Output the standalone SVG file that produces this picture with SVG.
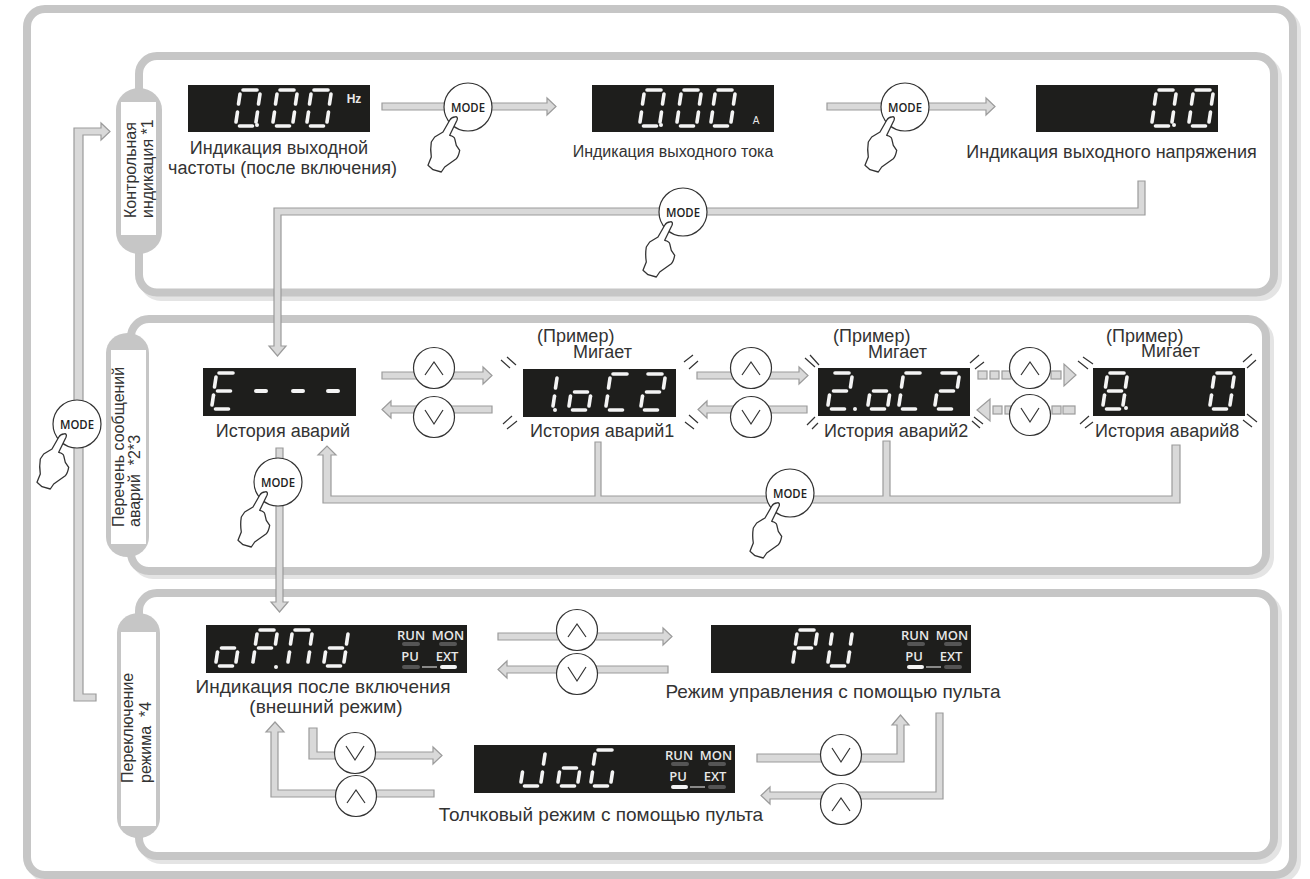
<svg xmlns="http://www.w3.org/2000/svg" width="1310" height="879" viewBox="0 0 1310 879">
<style>
text{font-family:"Liberation Sans",Arial,sans-serif;fill:#333;font-size:18px}
.m{text-anchor:middle}
.r3{font-size:19px}
.pt{font-size:16px}
.sh{fill:none;stroke:#e4e4e4;stroke-width:8}
.pn{fill:#fff;stroke:#c6c6c6;stroke-width:8}
.pill{fill:#c6c6c6}
.pw{fill:#fff}
.c{fill:#d9d9d9;stroke:#9b9b9b;stroke-width:1.2}
.btn{fill:#fff;stroke:#333;stroke-width:1.2}
.chev{fill:none;stroke:#333;stroke-width:1.2}
.hand{fill:#fff;stroke:#333;stroke-width:1.3;stroke-linejoin:round}
.md{font-family:"Open Sans","Noto Sans",sans-serif;font-size:13px;font-weight:600;text-anchor:middle;fill:#222}
.d{fill:#1e1e1c}
.s{fill:none;stroke:#f4f4f4;stroke-width:3.6;stroke-linecap:round}
.dot{fill:#f4f4f4}
.ind{font-family:"Open Sans","Noto Sans",sans-serif;font-size:13px;font-weight:600;text-anchor:middle;fill:#e8e8e8}
.on{fill:#f4f4f4}
.off{fill:#555}
.tk{stroke:#333;stroke-width:1.2;fill:none}
</style>
<defs>
<path id="a" class="s" d="M9 2H23"/>
<path id="b" class="s" d="M26 6L24.500 16"/>
<path id="c" class="s" d="M23.500 24L22 34"/>
<path id="e" class="s" d="M3.500 24L2 34"/>
<path id="f" class="s" d="M6 6L4.500 16"/>
<path id="g" class="s" d="M7.500 20H20.500"/>
<path id="dd" class="s" d="M5.500 38H18.500"/>
<g id="g0"><use href="#a"/><use href="#b"/><use href="#c"/><use href="#dd"/><use href="#e"/><use href="#f"/></g>
<g id="g1"><use href="#b"/><use href="#c"/></g>
<g id="g2"><use href="#a"/><use href="#b"/><use href="#g"/><use href="#e"/><use href="#dd"/></g>
<g id="g8"><use href="#g0"/><use href="#g"/></g>
<g id="go"><use href="#g"/><use href="#c"/><use href="#dd"/><use href="#e"/></g>
<g id="gC"><use href="#a"/><use href="#f"/><use href="#e"/><use href="#dd"/></g>
<g id="gP"><use href="#a"/><use href="#b"/><use href="#g"/><use href="#f"/><use href="#e"/></g>
<g id="gU"><use href="#b"/><use href="#c"/><use href="#dd"/><use href="#e"/><use href="#f"/></g>
<g id="gE"><use href="#a"/><use href="#f"/><use href="#g"/><use href="#e"/><use href="#dd"/></g>
<g id="gN"><use href="#a"/><use href="#b"/><use href="#c"/><use href="#e"/><use href="#f"/></g>
<g id="gd"><use href="#b"/><use href="#c"/><use href="#dd"/><use href="#e"/><use href="#g"/></g>
<g id="gJ"><use href="#b"/><use href="#c"/><use href="#dd"/><use href="#e"/></g>
<g id="gG"><use href="#a"/><use href="#f"/><use href="#e"/><use href="#dd"/><use href="#c"/></g>
<path id="hand" class="hand" d="M-13.300 10C-11 9-10 11-11 13.300L-18.300 28.300C-15.500 29-13.500 30-13.300 31.700L-11.700 38.300L-8.300 43.300C-9 47-10 50-11.700 51.700L-23.300 60L-26.700 65L-35 62.700L-40 58.300L-36.700 50C-37.500 45-37.500 40-36.700 35L-33.300 30L-25 25L-18.300 13.300C-17 11-15 10-13.300 10Z"/>
<path id="up" class="chev" d="M-9 7L0-6L9 7"/>
<path id="dn" class="chev" d="M-9-7L0 7L9-7"/>
</defs>

<g id="panels">
<rect class="sh" x="31" y="13" width="1266" height="866" rx="18"/>
<rect class="pn" x="27" y="9" width="1266" height="866" rx="18"/>
<rect class="sh" x="143" y="60" width="1135" height="237" rx="18"/>
<rect class="pn" x="139" y="56" width="1135" height="236.500" rx="18"/>
<rect class="sh" x="135" y="323" width="1135" height="252" rx="18"/>
<rect class="pn" x="131" y="319" width="1135" height="252" rx="18"/>
<rect class="sh" x="143" y="597" width="1135" height="263" rx="18"/>
<rect class="pn" x="139" y="593" width="1135" height="263" rx="18"/>
</g>

<g id="pill-monitor">
<rect class="pill" x="116" y="88" width="46" height="166" rx="23" ry="22"/>
<rect class="pw" x="121" y="102" width="35" height="133"/>
<text class="pt" transform="translate(136 218) rotate(-90)">Контрольная</text>
<text class="pt" transform="translate(153 218) rotate(-90)">индикация *1</text>
</g>
<g id="pill-alarm">
<rect class="pill" x="106" y="333" width="43" height="224" rx="21.500" ry="20"/>
<rect class="pw" x="111" y="350" width="35" height="194"/>
<text class="pt" transform="translate(124 527) rotate(-90)">Перечень сообщений</text>
<text class="pt" xml:space="preserve" transform="translate(140 527) rotate(-90)">аварий  *2*3</text>
</g>
<g id="pill-mode">
<rect class="pill" x="117" y="613" width="43" height="225" rx="21.500" ry="20"/>
<rect class="pw" x="121" y="632" width="35" height="194"/>
<text class="pt" transform="translate(133 783) rotate(-90)">Переключение</text>
<text class="pt" xml:space="preserve" transform="translate(151 783) rotate(-90)">режима  *4</text>
</g>

<g id="connectors">
<polygon class="c" points="96,694 96,701 74,701 74,128 101,128 101,123 110,131.500 101,140 101,135 83,135 83,694"/>
<polygon class="c" points="382,103 547,103 547,98 556,106.500 547,115 547,110 382,110"/>
<polygon class="c" points="827,103 986,103 986,98 995,106.500 986,115 986,110 827,110"/>
<polygon class="c" points="1138,181 1145,181 1145,215 281,215 281,346 286,346 277.500,356 269,346 274,346 274,208 1138,208"/>
<polygon class="c" points="382,372 483,372 483,367 492,375.500 483,384 483,379 382,379"/>
<polygon class="c" points="492,406 391,406 391,401 382,409.500 391,418 391,413 492,413"/>
<polygon class="c" points="697,372 799,372 799,367 808,375.500 799,384 799,379 697,379"/>
<polygon class="c" points="807,406 707,406 707,401 698,409.500 707,418 707,413 807,413"/>
<rect class="c" x="978" y="371" width="9" height="8"/><rect class="c" x="990" y="371" width="9" height="8"/><rect class="c" x="1002" y="371" width="9" height="8"/><rect class="c" x="1051" y="371" width="10" height="8"/>
<polygon class="c" points="1064,371 1064,364 1076,375 1064,386 1064,379"/>
<polygon class="c" points="990,406 990,399 977,410 990,421 990,414"/>
<rect class="c" x="993" y="406" width="9" height="8"/><rect class="c" x="1005" y="406" width="9" height="8"/><rect class="c" x="1052" y="406" width="9" height="8"/><rect class="c" x="1063" y="406" width="12" height="8"/>
<polygon class="c" points="1180,445 1180,503 331,503 323,503 323,455 318,455 327,446 336,455 331,455 331,496 595,496 595,442 601,442 601,496 883,496 883,441 890,441 890,496 1172,496 1172,445"/>
<polygon class="c" points="276,448 283,448 283,602 288,602 279.500,612 271,602 276,602"/>
<polygon class="c" points="498,633 663,633 663,628 672,636.500 663,645 663,640 498,640"/>
<polygon class="c" points="668,666 507,666 507,661 498,669.500 507,678 507,673 668,673"/>
<polygon class="c" points="309,728 317,728 317,752 433,752 433,747 442,755.500 433,764 433,759 309,759"/>
<polygon class="c" points="434,790 434,797 271,797 271,732 266,732 275,722 284,732 278,732 278,790"/>
<polygon class="c" points="757,754 897,754 897,725 892,725 900.500,715 909,725 904,725 904,762 757,762"/>
<polygon class="c" points="943,713 943,799 770,799 770,804 761,795.500 770,787 770,792 936,792 936,713"/>
</g>

<g id="btn-mode-left"><circle class="btn" cx="77" cy="424" r="24"/><text class="md" x="77" y="428.500" textLength="34" lengthAdjust="spacingAndGlyphs">MODE</text><use href="#hand" x="77" y="424"/></g>
<g id="btn-mode-1"><circle class="btn" cx="468" cy="107" r="24"/><text class="md" x="468" y="111.500" textLength="34" lengthAdjust="spacingAndGlyphs">MODE</text><use href="#hand" x="468" y="107"/></g>
<g id="btn-mode-2"><circle class="btn" cx="905" cy="107" r="24"/><text class="md" x="905" y="111.500" textLength="34" lengthAdjust="spacingAndGlyphs">MODE</text><use href="#hand" x="905" y="107"/></g>
<g id="btn-mode-3"><circle class="btn" cx="683" cy="212" r="24"/><text class="md" x="683" y="216.500" textLength="34" lengthAdjust="spacingAndGlyphs">MODE</text><use href="#hand" x="683" y="212"/></g>
<g id="btn-mode-4"><circle class="btn" cx="278" cy="482" r="24"/><text class="md" x="278" y="486.500" textLength="34" lengthAdjust="spacingAndGlyphs">MODE</text><use href="#hand" x="278" y="482"/></g>
<g id="btn-mode-5"><circle class="btn" cx="790" cy="493" r="24"/><text class="md" x="790" y="497.500" textLength="34" lengthAdjust="spacingAndGlyphs">MODE</text><use href="#hand" x="790" y="493"/></g>

<g id="btns-arrows">
<circle class="btn" cx="434" cy="368" r="20.500"/><use href="#up" x="434" y="368"/>
<circle class="btn" cx="434" cy="417" r="20.500"/><use href="#dn" x="434" y="417"/>
<circle class="btn" cx="751" cy="368" r="20.500"/><use href="#up" x="751" y="368"/>
<circle class="btn" cx="751" cy="417" r="20.500"/><use href="#dn" x="751" y="417"/>
<circle class="btn" cx="1030" cy="368" r="20.500"/><use href="#up" x="1030" y="368"/>
<circle class="btn" cx="1030" cy="415" r="20.500"/><use href="#dn" x="1030" y="415"/>
<circle class="btn" cx="577" cy="630" r="20.500"/><use href="#up" x="577" y="630"/>
<circle class="btn" cx="577" cy="674" r="20.500"/><use href="#dn" x="577" y="674"/>
<circle class="btn" cx="355" cy="753" r="20.500"/><use href="#dn" x="355" y="753"/>
<circle class="btn" cx="356" cy="796" r="20.500"/><use href="#up" x="356" y="796"/>
<circle class="btn" cx="841" cy="755" r="20.500"/><use href="#dn" x="841" y="755"/>
<circle class="btn" cx="841" cy="804" r="20.500"/><use href="#up" x="841" y="804"/>
</g>

<g id="disp-freq">
<rect class="d" x="188" y="85" width="182" height="47"/>
<use href="#g0" x="234" y="88"/><circle class="dot" cx="257" cy="125" r="2"/><use href="#g0" x="271" y="88"/><use href="#g0" x="305" y="88"/>
<text x="354" y="103" class="m" style="font-size:12px;font-weight:bold;fill:#e8e8e8">Hz</text>
<text class="m" x="279" y="154">Индикация выходной</text>
<text class="m" x="282.500" y="174">частоты (после включения)</text>
</g>
<g id="disp-current">
<rect class="d" x="592" y="85" width="182" height="47"/>
<use href="#g0" x="638" y="88"/><circle class="dot" cx="661" cy="125" r="2"/><use href="#g0" x="675" y="88"/><use href="#g0" x="709" y="88"/>
<text x="756" y="124" class="m" style="font-size:10px;fill:#e8e8e8">A</text>
<text class="m" x="673" y="157" style="font-size:16px">Индикация выходного тока</text>
</g>
<g id="disp-voltage">
<rect class="d" x="1036" y="85" width="182" height="47"/>
<use href="#g0" x="1150" y="88"/><circle class="dot" cx="1174" cy="125" r="2"/><use href="#g0" x="1187" y="88"/>
<text class="m" x="1111.500" y="158">Индикация выходного напряжения</text>
</g>

<g id="disp-hist0">
<rect class="d" x="203" y="368" width="153" height="48"/>
<use href="#gE" x="210" y="371"/>
<path class="s" style="stroke-width:4" d="M256 391H266M293 391H303M328 391H338"/>
<text class="m" x="283" y="437">История аварий</text>
</g>
<g id="disp-hist1">
<rect class="d" x="523" y="369" width="153" height="48"/>
<use href="#g1" x="531" y="372"/><circle class="dot" cx="555" cy="410" r="2"/><use href="#go" x="567" y="372"/><use href="#gC" x="604" y="372"/><use href="#g2" x="639" y="372"/>
<path class="tk" d="M501 360L510 368M507 357L516 365M503 424L512 416M507 429L517 421M684 362L693 355M689 369L698 361M685 422L694 429M689 415L698 423"/>
<text x="537" y="342">(Пример)</text><text x="573" y="358">Мигает</text>
<text x="530" y="437">История аварий1</text>
</g>
<g id="disp-hist2">
<rect class="d" x="818" y="368" width="152" height="48"/>
<use href="#g2" x="826" y="371"/><circle class="dot" cx="855" cy="409" r="2"/><use href="#go" x="866" y="371"/><use href="#gC" x="897" y="371"/><use href="#g2" x="933" y="371"/>
<path class="tk" d="M805 358L815 367M810 355L819 365M807 425L815 417M812 429L818 423M970 363L979 355M975 369L984 362M974 417L983 424M972 421L980 428"/>
<text x="833" y="342">(Пример)</text><text x="868" y="358">Мигает</text>
<text x="824" y="437">История аварий2</text>
</g>
<g id="disp-hist8">
<rect class="d" x="1093" y="368" width="152" height="48"/>
<use href="#g8" x="1101" y="371"/><circle class="dot" cx="1126" cy="408" r="2"/><use href="#g0" x="1208" y="371"/>
<path class="tk" d="M1078 361L1088 369M1083 357L1093 364M1080 424L1089 416M1085 428L1093 422M1243 362L1252 354M1247 368L1256 360M1243 420L1252 427M1247 414L1257 422"/>
<text x="1106" y="342">(Пример)</text><text x="1141" y="357">Мигает</text>
<text x="1095" y="437">История аварий8</text>
</g>

<g id="disp-opnd">
<rect class="d" x="206" y="625" width="261" height="48"/>
<use href="#go" x="214" y="628"/><use href="#gP" x="251" y="628"/><circle class="dot" cx="276" cy="667" r="2"/><use href="#gN" x="286" y="628"/><use href="#gd" x="322" y="628"/>
<text class="ind" x="411" y="640">RUN</text><text class="ind" x="448" y="640">MON</text><text class="ind" x="410" y="661">PU</text><text class="ind" x="447" y="661">EXT</text>
<rect class="off" x="402" y="642" width="18" height="4" rx="2"/><rect class="off" x="439" y="642" width="18" height="4" rx="2"/><rect class="off" x="402" y="665" width="18" height="4" rx="2"/><rect class="on" x="440" y="665" width="17" height="4" rx="2"/><path d="M422 667H437" stroke="#f4f4f4" stroke-width="1"/>
<text class="m r3" x="323" y="693">Индикация после включения</text>
<text class="m r3" x="326" y="713">(внешний режим)</text>
</g>
<g id="disp-pu">
<rect class="d" x="711" y="625" width="260" height="48"/>
<use href="#gP" x="791" y="628"/><use href="#gU" x="826" y="628"/>
<text class="ind" x="915" y="640">RUN</text><text class="ind" x="952" y="640">MON</text><text class="ind" x="914" y="661">PU</text><text class="ind" x="951" y="661">EXT</text>
<rect class="off" x="907" y="642" width="18" height="4" rx="2"/><rect class="off" x="944" y="642" width="18" height="4" rx="2"/><rect class="on" x="907" y="665" width="17" height="4" rx="2"/><rect class="off" x="944" y="665" width="18" height="4" rx="2"/><path d="M926 667H941" stroke="#f4f4f4" stroke-width="1"/>
<text class="m r3" x="833" y="698">Режим управления с помощью пульта</text>
</g>
<g id="disp-jog">
<rect class="d" x="474" y="745" width="261" height="48"/>
<use href="#gJ" x="519" y="748"/><use href="#go" x="556" y="748"/><use href="#gG" x="589" y="748"/>
<text class="ind" x="679" y="760">RUN</text><text class="ind" x="716" y="760">MON</text><text class="ind" x="678" y="781">PU</text><text class="ind" x="715" y="781">EXT</text>
<rect class="off" x="671" y="762" width="18" height="4" rx="2"/><rect class="off" x="708" y="762" width="18" height="4" rx="2"/><rect class="on" x="671" y="785" width="17" height="4" rx="2"/><rect class="off" x="708" y="785" width="18" height="4" rx="2"/><path d="M690 787H705" stroke="#f4f4f4" stroke-width="1"/>
<text class="m r3" x="601" y="821">Толчковый режим с помощью пульта</text>
</g>
</svg>
